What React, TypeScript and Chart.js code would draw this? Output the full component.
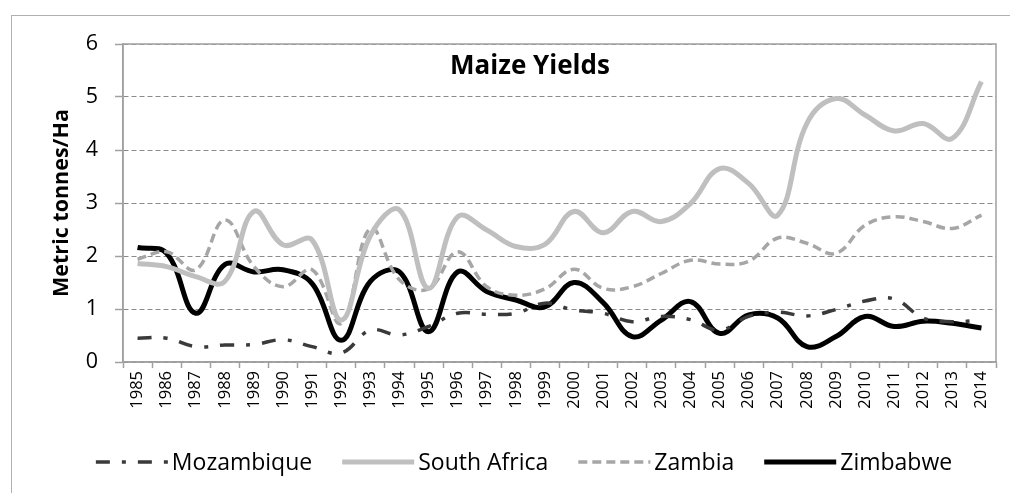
import React, { useEffect, useRef } from "react";
import { Chart, registerables } from "chart.js";

Chart.register(...registerables);

const years = [
  "1985", "1986", "1987", "1988", "1989", "1990", "1991", "1992", "1993", "1994",
  "1995", "1996", "1997", "1998", "1999", "2000", "2001", "2002", "2003", "2004",
  "2005", "2006", "2007", "2008", "2009", "2010", "2011", "2012", "2013", "2014",
];

const mozambique = [
  0.45, 0.45, 0.29, 0.32, 0.33, 0.42, 0.29, 0.17, 0.6, 0.51,
  0.67, 0.92, 0.9, 0.92, 1.11, 0.98, 0.92, 0.76, 0.86, 0.8,
  0.6, 0.86, 0.94, 0.87, 0.99, 1.15, 1.19, 0.83, 0.76, 0.79,
];

const southAfrica = [
  1.86, 1.8, 1.61, 1.52, 2.84, 2.21, 2.3, 0.79, 2.38, 2.87,
  1.39, 2.74, 2.49, 2.18, 2.22, 2.84, 2.44, 2.84, 2.65, 2.99,
  3.65, 3.37, 2.77, 4.5, 4.97, 4.66, 4.36, 4.5, 4.22, 5.29,
];

const zambia = [
  1.94, 2.08, 1.74, 2.68, 1.8, 1.42, 1.74, 0.73, 2.52, 1.55,
  1.38, 2.08, 1.42, 1.26, 1.38, 1.75, 1.39, 1.42, 1.67, 1.92,
  1.85, 1.9, 2.34, 2.24, 2.05, 2.58, 2.74, 2.65, 2.52, 2.77,
];

const zimbabwe = [
  2.16, 2.05, 0.92, 1.84, 1.7, 1.74, 1.48, 0.41, 1.52, 1.7,
  0.57, 1.7, 1.33, 1.17, 1.04, 1.5, 1.12, 0.48, 0.79, 1.14,
  0.54, 0.89, 0.83, 0.29, 0.48, 0.86, 0.67, 0.77, 0.73, 0.64,
];

const seriesNames = ["Mozambique", "South Africa", "Zambia", "Zimbabwe"];
const yTicks = [0, 1, 2, 3, 4, 5, 6];
const chartTitle = "Maize Yields";
const yAxisTitle = "Metric tonnes/Ha";

const FONT = "'Open Sans', 'DejaVu Sans', sans-serif";

export default function App() {
  const ref = useRef<HTMLCanvasElement | null>(null);

  useEffect(() => {
    const canvas = ref.current;
    if (!canvas) return;

    const decor = {
      id: "decor",
      beforeDraw(chart: any) {
        const ctx = chart.ctx;
        ctx.save();
        ctx.fillStyle = "#ffffff";
        ctx.fillRect(0, 0, chart.width, chart.height);
        ctx.strokeStyle = "#B0B0B0";
        ctx.lineWidth = 1;
        ctx.strokeRect(11.5, 15.5, chart.width + 50, chart.height + 50);
        ctx.restore();
      },
      beforeDatasetsDraw(chart: any) {
        const { ctx, chartArea: a } = chart;
        ctx.save();
        ctx.strokeStyle = "#A0A0A0";
        ctx.lineWidth = 1.5;
        ctx.strokeRect(a.left, a.top, a.right - a.left, a.bottom - a.top);
        ctx.restore();
      },
      afterDraw(chart: any) {
        const { ctx } = chart;
        ctx.save();
        ctx.fillStyle = "#000";
        ctx.font = `bold 26px ${FONT}`;
        ctx.textAlign = "center";
        ctx.textBaseline = "middle";
        ctx.fillText(chartTitle, 530, 67);

        ctx.font = `23px ${FONT}`;
        const items = chart.data.datasets.map((ds: any) => ({
          ds,
          w: ctx.measureText(ds.label).width,
        }));
        const sampleW = 72;
        const gapText = 4;
        const gapItem = 30;
        const total =
          items.reduce((s: number, it: any) => s + sampleW + gapText + it.w, 0) +
          gapItem * (items.length - 1);
        let x = 524 - total / 2;
        const y = 462;
        items.forEach(({ ds, w }: any) => {
          ctx.save();
          ctx.strokeStyle = ds.borderColor;
          ctx.lineWidth = ds.borderWidth;
          ctx.setLineDash(ds.borderDash || []);
          ctx.lineCap = "butt";
          ctx.beginPath();
          ctx.moveTo(x, y);
          ctx.lineTo(x + sampleW, y);
          ctx.stroke();
          ctx.restore();
          x += sampleW + gapText;
          ctx.textAlign = "left";
          ctx.textBaseline = "middle";
          ctx.fillStyle = "#000";
          ctx.fillText(ds.label, x, y + 1);
          x += w + gapItem;
        });
        ctx.restore();
      },
    };

    const chart = new Chart(canvas, {
      type: "line",
      data: {
        labels: years,
        datasets: [
          {
            label: seriesNames[0],
            data: mozambique,
            borderColor: "#3A3A3A",
            borderWidth: 3.5,
            borderDash: [14, 12, 4, 12],
            tension: 0.4,
            pointRadius: 0,
            fill: false,
          },
          {
            label: seriesNames[1],
            data: southAfrica,
            borderColor: "#BFBFBF",
            borderWidth: 5,
            tension: 0.4,
            pointRadius: 0,
            fill: false,
          },
          {
            label: seriesNames[2],
            data: zambia,
            borderColor: "#A6A6A6",
            borderWidth: 3.5,
            borderDash: [9, 5],
            tension: 0.4,
            pointRadius: 0,
            fill: false,
          },
          {
            label: seriesNames[3],
            data: zimbabwe,
            borderColor: "#000000",
            borderWidth: 5,
            tension: 0.4,
            pointRadius: 0,
            fill: false,
          },
        ],
      },
      options: {
        responsive: false,
        animation: false,
        devicePixelRatio: 1,
        layout: { padding: { left: 0, top: 44, right: 14, bottom: 0 } },
        plugins: {
          legend: { display: false },
          title: { display: false },
          tooltip: { enabled: false },
        },
        scales: {
          x: {
            type: "category",
            offset: true,
            afterFit(scale: any) {
              scale.height = 131;
            },
            grid: {
              offset: true,
              drawOnChartArea: false,
              drawTicks: true,
              tickLength: 6,
              tickColor: "#A0A0A0",
              tickWidth: 1.5,
            },
            border: { display: true, color: "#A0A0A0", width: 1.5 },
            ticks: {
              autoSkip: false,
              minRotation: 90,
              maxRotation: 90,
              padding: 3,
              color: "#000",
              font: { family: FONT, size: 16.5 },
            },
          },
          y: {
            min: 0,
            max: 6,
            afterFit(scale: any) {
              scale.width = 123;
            },
            afterBuildTicks(scale: any) {
              scale.ticks = yTicks.map((v) => ({ value: v }));
            },
            grid: {
              color: "#8A8A8A",
              lineWidth: 1,
              drawTicks: true,
              tickLength: 8,
              tickColor: "#A0A0A0",
              tickWidth: 1.5,
              tickBorderDash: [],
            },
            border: { display: true, color: "#A0A0A0", width: 1.5, dash: [5, 3] },
            ticks: {
              padding: 17,
              color: "#000",
              font: { family: FONT, size: 21.5 },
            },
            title: {
              display: true,
              text: yAxisTitle,
              color: "#000",
              font: { family: FONT, size: 21.5, weight: "bold" },
              padding: { top: 49, bottom: 0 },
            },
          },
        },
      },
      plugins: [decor],
    } as any);

    return () => {
      chart.destroy();
    };
  }, []);

  return (
    <div style={{ position: "fixed", left: 0, top: 0, width: 1010, height: 493, background: "#fff" }}>
      <canvas ref={ref} width={1010} height={493} style={{ display: "block", width: 1010, height: 493 }} />
    </div>
  );
}
